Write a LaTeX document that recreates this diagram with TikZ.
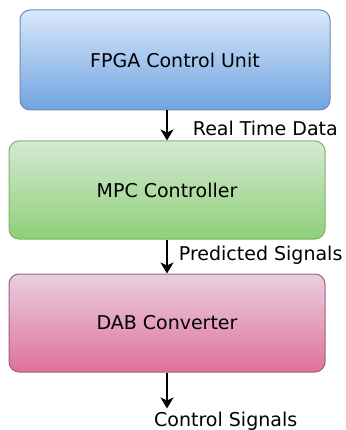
\documentclass[tikz,border=0pt]{standalone}
\usepackage{fontspec}
\setmainfont{DejaVu Sans}
\usetikzlibrary{arrows.meta,positioning}

\definecolor{fpgaTop}{HTML}{DAE8FC}
\definecolor{fpgaBot}{HTML}{6FA3DF}
\definecolor{fpgaLine}{HTML}{6C8EBF}
\definecolor{mpcTop}{HTML}{D5E8D4}
\definecolor{mpcBot}{HTML}{8ED077}
\definecolor{mpcLine}{HTML}{82B366}
\definecolor{dabTop}{HTML}{E8D0DE}
\definecolor{dabBot}{HTML}{E0709A}
\definecolor{dabLine}{HTML}{996185}

\begin{document}
\begin{tikzpicture}[
  x=1pt, y=1pt,
  font=\fontsize{19}{23}\selectfont,
  box/.style={draw, rounded corners=10pt, line width=1pt, minimum width=316pt, minimum height=98pt, align=center},
  lbl/.style={inner sep=0pt},
  arr/.style={-{Stealth[length=11pt, width=13pt, inset=3pt]}, line width=1.8pt}]
  \useasboundingbox (0,0) rectangle (345,-430);
  \node[box, minimum width=310pt, minimum height=100pt, top color=fpgaTop, bottom color=fpgaBot, draw=fpgaLine] (fpga) at (175,-60) {FPGA Control Unit};
  \node[box, top color=mpcTop, bottom color=mpcBot, draw=mpcLine, below=30pt of fpga, xshift=-8pt] (mpc) {MPC Controller};
  \node[box, top color=dabTop, bottom color=dabBot, draw=dabLine, below=34pt of mpc] (dab) {DAB Converter};
  \coordinate[below=36pt of dab] (out);
  \draw[arr] (fpga.south -| mpc) -- node[lbl, right=25pt, yshift=-3pt] {Real Time Data} (mpc);
  \draw[arr] (mpc) -- node[lbl, right=11pt, yshift=1pt] {Predicted Signals} (dab);
  \draw[arr] (dab) -- (out);
  \node[lbl, anchor=base west] (ctrl) at ([xshift=-13pt, yshift=-18pt]out) {Control Signals};
\end{tikzpicture}
\end{document}
